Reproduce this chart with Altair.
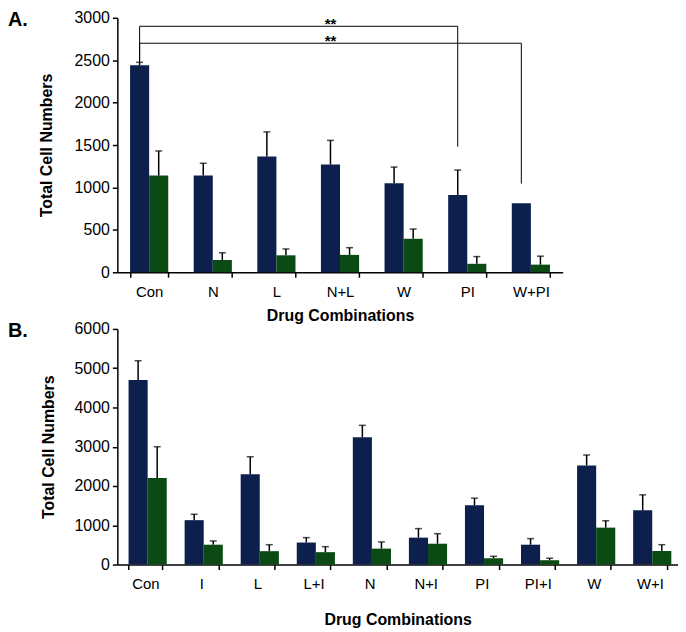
import altair as alt
import pandas as pd

# ---------------- Panel A data ----------------
cats_a = ["Con", "N", "L", "N+L", "W", "PI", "W+PI"]
navy_a = [2440, 1140, 1365, 1270, 1050, 910, 815]
navy_err_a = [35, 145, 290, 285, 190, 295, 0]
green_a = [1140, 145, 200, 205, 395, 100, 90]
green_err_a = [290, 85, 75, 85, 115, 85, 100]

# significance brackets (panel A)
br_from = ["Con", "Con"]
br_to = ["PI", "W+PI"]
br_level = [2900, 2700]
br_start = [2477, 2477]
br_end = [1480, 1045]
br_label = ["**", "**"]
br_label_cat = ["N+L", "N+L"]

# ---------------- Panel B data ----------------
cats_b = ["Con", "I", "L", "L+I", "N", "N+I", "PI", "PI+I", "W", "W+I"]
navy_b = [4700, 1130, 2300, 560, 3240, 685, 1510, 505, 2525, 1380]
navy_err_b = [490, 150, 445, 125, 305, 230, 180, 155, 265, 395]
green_b = [2205, 505, 340, 315, 405, 530, 160, 110, 940, 345]
green_err_b = [795, 95, 165, 140, 170, 255, 50, 50, 175, 160]

NAVY = "#0c1f4d"
GREEN = "#0b4a12"
FONT = "Liberation Sans"


def panel(cats, navy, navy_err, green, green_err, ymax, ystep, width, height,
          tag, x_title_pad, y_title_pad, brackets=None):
    rows = []
    for i, c in enumerate(cats):
        rows.append(dict(cat=c, s="S1", v=navy[i], e=navy_err[i], top=navy[i] + navy_err[i]))
        rows.append(dict(cat=c, s="S2", v=green[i], e=green_err[i], top=green[i] + green_err[i]))
    df = pd.DataFrame(rows)

    xscale = alt.Scale(domain=cats, paddingInner=0.4, paddingOuter=0.2)
    xaxis = alt.Axis(title="Drug Combinations", labelAngle=0, tickBand="extent",
                     labelFontSize=15, labelPadding=7, titleFontSize=16,
                     titleFontWeight="bold", titlePadding=x_title_pad)
    yscale = alt.Scale(domain=[0, ymax], nice=False)
    yaxis = alt.Axis(title="Total Cell Numbers", values=list(range(0, ymax + 1, ystep)),
                     format="d", labelFontSize=16, labelPadding=3, titleFontSize=16,
                     titleFontWeight="bold", titlePadding=y_title_pad)
    X = alt.X("cat:N", scale=xscale, axis=xaxis, title="Drug Combinations")
    xoff = alt.XOffset("s:N", scale=alt.Scale(domain=["S1", "S2"], paddingInner=0, paddingOuter=0))
    color = alt.Color("s:N", scale=alt.Scale(domain=["S1", "S2"], range=[NAVY, GREEN]), legend=None)

    base = alt.Chart(df)
    bars = base.mark_bar().encode(
        x=X, xOffset=xoff, color=color,
        y=alt.Y("v:Q", scale=yscale, axis=yaxis, title="Total Cell Numbers"),
    )
    errs = base.transform_filter("datum.e > 0")
    err_line = errs.mark_rule(color="black", strokeWidth=1.5).encode(
        x=X, xOffset=xoff,
        y=alt.Y("v:Q", scale=yscale, axis=yaxis, title="Total Cell Numbers"),
        y2="top:Q",
    )
    err_cap = errs.mark_tick(color="black", size=7, thickness=1.5).encode(
        x=X, xOffset=xoff,
        y=alt.Y("top:Q", scale=yscale, axis=yaxis, title="Total Cell Numbers"),
    )
    tag_df = pd.DataFrame({"t": [tag]})
    tag_txt = alt.Chart(tag_df).mark_text(
        font=FONT, fontSize=20, fontWeight="bold", align="left", baseline="top", color="black"
    ).encode(text="t:N", x=alt.value(-110), y=alt.value(-8))

    layers = [bars, err_line, err_cap, tag_txt]

    if brackets is not None:
        b_from, b_to, b_level, b_start, b_end, b_lab, b_lab_cat = brackets
        seg = []
        for i in range(len(b_from)):
            seg.append(dict(c1=b_from[i], c2=b_from[i], y1=b_start[i], y2=b_level[i]))
            seg.append(dict(c1=b_from[i], c2=b_to[i], y1=b_level[i], y2=b_level[i]))
            seg.append(dict(c1=b_to[i], c2=b_to[i], y1=b_end[i], y2=b_level[i]))
        seg_df = pd.DataFrame(seg)
        br = alt.Chart(seg_df).mark_rule(color="black", strokeWidth=1).encode(
            x=alt.X("c1:N", scale=xscale, axis=xaxis, title="Drug Combinations", bandPosition=0.25),
            x2=alt.X2("c2:N", bandPosition=0.25),
            y=alt.Y("y1:Q", scale=yscale, axis=yaxis, title="Total Cell Numbers"),
            y2="y2:Q",
        )
        lab_df = pd.DataFrame({"c": b_lab_cat, "y": b_level, "t": b_lab})
        stars = alt.Chart(lab_df).mark_text(
            font=FONT, fontSize=15, fontWeight="bold", baseline="alphabetic", dy=3, color="black"
        ).encode(
            x=alt.X("c:N", scale=xscale, axis=xaxis, title="Drug Combinations", bandPosition=0.25),
            y=alt.Y("y:Q", scale=yscale, axis=yaxis, title="Total Cell Numbers"),
            text="t:N",
        )
        layers += [br, stars]

    return alt.layer(*layers).properties(width=width, height=height)


pa = panel(cats_a, navy_a, navy_err_a, green_a, green_err_a, 3000, 500, 448, 256,
           "A.", 9, 20,
           brackets=(br_from, br_to, br_level, br_start, br_end, br_label, br_label_cat))
pb = panel(cats_b, navy_b, navy_err_b, green_b, green_err_b, 6000, 1000, 564, 237,
           "B.", 20, 18)

chart = alt.vconcat(pa, pb, spacing=57, bounds="flush").properties(
    padding={"left": 0, "top": 0, "right": 0, "bottom": 0}
).configure_view(stroke=None).configure_axis(
    domainColor="black", tickColor="black", labelColor="black", titleColor="black",
    labelFont=FONT, titleFont=FONT, grid=False, domainWidth=1.5, tickWidth=1.5, tickSize=5,
)

chart.save("out.html", embed_options={"renderer": "svg", "actions": False})
